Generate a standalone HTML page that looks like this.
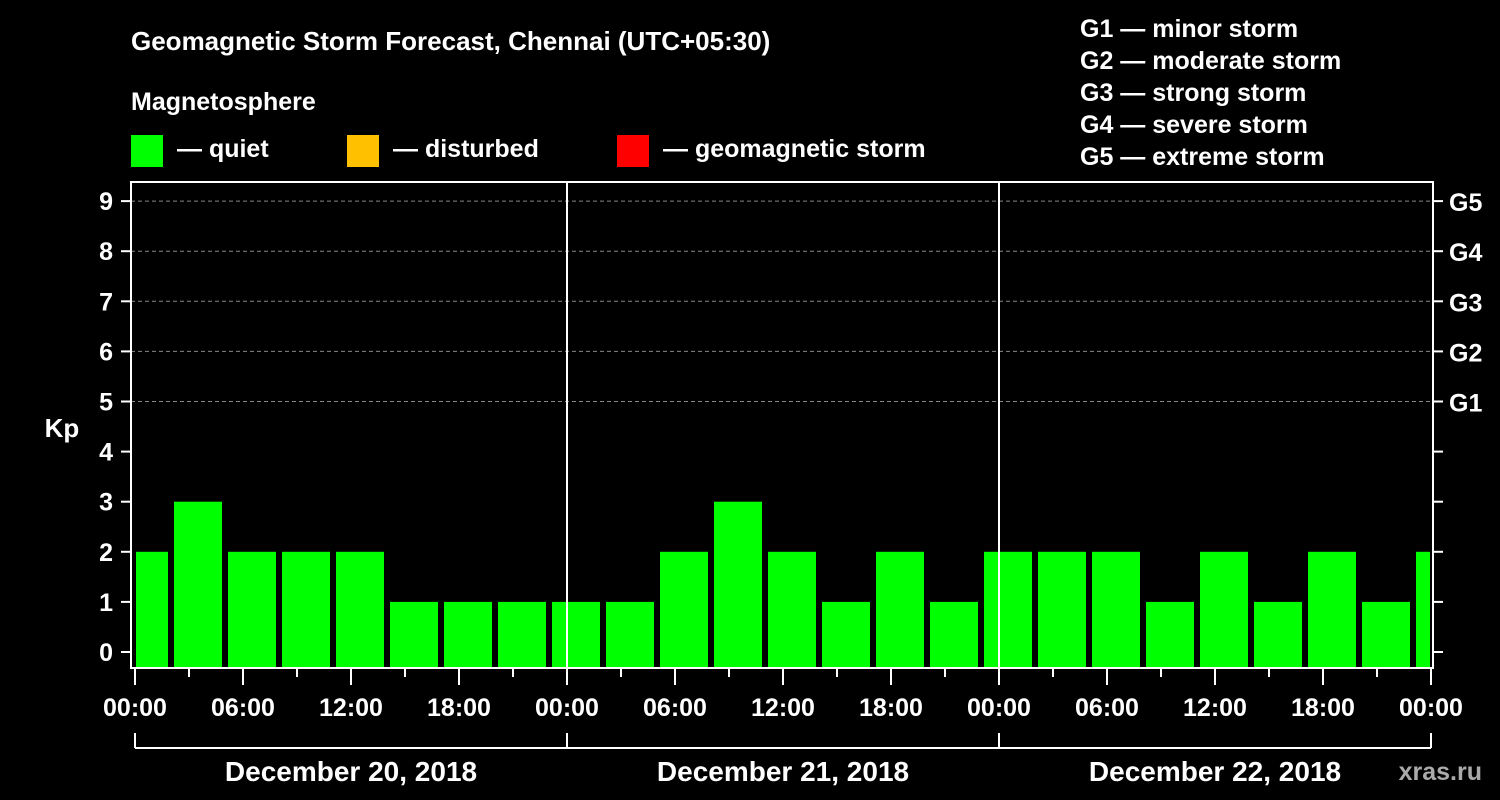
<!DOCTYPE html>
<html><head><meta charset="utf-8"><style>
body{margin:0;background:#000;width:1500px;height:800px;overflow:hidden}
svg{display:block;font-family:"Liberation Sans",sans-serif;font-weight:bold}
</style></head><body>
<svg id="chart" width="1500" height="800" xmlns="http://www.w3.org/2000/svg">
<rect width="1500" height="800" fill="#000"/>
<text x="131" y="50" fill="#fff" font-size="26">Geomagnetic Storm Forecast, Chennai (UTC+05:30)</text>
<text x="131" y="110" fill="#fff" font-size="25">Magnetosphere</text>
<rect x="131" y="135" width="32" height="32" fill="#00ff00"/>
<text x="177" y="157" fill="#fff" font-size="25">— quiet</text>
<rect x="347" y="135" width="32" height="32" fill="#ffc000"/>
<text x="393" y="157" fill="#fff" font-size="25">— disturbed</text>
<rect x="617" y="135" width="32" height="32" fill="#ff0000"/>
<text x="663" y="157" fill="#fff" font-size="25">— geomagnetic storm</text>
<g fill="#fff" font-size="25">
<text x="1080" y="37">G1 — minor storm</text>
<text x="1080" y="69">G2 — moderate storm</text>
<text x="1080" y="101">G3 — strong storm</text>
<text x="1080" y="133">G4 — severe storm</text>
<text x="1080" y="165">G5 — extreme storm</text>
</g>
<text x="62" y="437" fill="#fff" font-size="26" text-anchor="middle">Kp</text>
<text x="1482" y="780" fill="#aaa" font-size="25" text-anchor="end">xras.ru</text>
<g id="plot"></g>
</svg>
<script>
const kpValues=[2,3,2,2,2,1,1,1,1,1,2,3,2,1,2,1,2,2,2,1,2,1,2,1,2];
const kpTicks=[0,1,2,3,4,5,6,7,8,9];
const gLabels=["","","","","","G1","G2","G3","G4","G5"];
const timeLabels=["00:00","06:00","12:00","18:00","00:00","06:00","12:00","18:00","00:00","06:00","12:00","18:00","00:00"];
const dayLabels=["December 20, 2018","December 21, 2018","December 22, 2018"];
const NS="http://www.w3.org/2000/svg";
const x=h=>135+h*18;
const y=v=>652-v*50.1;
const g=document.getElementById('plot');
function mk(tag,attrs){const e=document.createElementNS(NS,tag);for(const k in attrs)e.setAttribute(k,attrs[k]);g.appendChild(e);return e;}
// grid
kpTicks.forEach((v,i)=>{
 if(v>=5){const l=mk('line',{x1:131,x2:1433,y1:y(v),y2:y(v),stroke:'#888','stroke-dasharray':'4,3','stroke-width':1});
 
 }
 const t=mk('line',{x1:121,x2:131,y1:y(v),y2:y(v),stroke:'#fff','stroke-width':2});
 
 
 const t2=mk('line',{x1:1433,x2:1443,y1:y(v),y2:y(v),stroke:'#fff','stroke-width':2});
 
 
 const lb=mk('text',{x:113,y:y(v)+9,fill:'#fff','font-size':25,'text-anchor':'end'});lb.textContent=v;
 
 
 if(gLabels[i]){const gl=mk('text',{x:1449,y:y(v)+10,fill:'#fff','font-size':25});gl.textContent=gLabels[i];
 
 }
});
// bars
kpValues.forEach((v,k)=>{
 let c=0.5+3*k, x0=x(c-4/3), x1=x(c+4/3);
 x0=Math.max(x0,136);x1=Math.min(x1,1430);
 const r=mk('rect',{x:x0,y:y(v),width:x1-x0,height:668-y(v),fill:v>=5?'#ff0000':(v>=4?'#ffc000':'#00ff00')});
 
 
});
// day separators
for(let d=1;d<3;d++){const l=mk('line',{x1:x(24*d),x2:x(24*d),y1:182,y2:668,stroke:'#fff','stroke-width':2});
 
 }
// frame
const f=mk('rect',{x:131,y:182,width:1302,height:486,fill:'none',stroke:'#fff','stroke-width':2});


// x ticks
for(let h=0;h<=72;h+=3){const major=h%6===0;
 const t=mk('line',{x1:x(h),x2:x(h),y1:669,y2:major?685:677,stroke:'#fff','stroke-width':2});
 
 }
timeLabels.forEach((s,i)=>{const t=mk('text',{x:x(i*6),y:716,fill:'#fff','font-size':25,'text-anchor':'middle'});t.textContent=s;
 
 });
// day bracket
const bl=mk('line',{x1:x(0),x2:x(72),y1:748,y2:748,stroke:'#fff','stroke-width':2});


for(let d=0;d<=3;d++){const t=mk('line',{x1:x(24*d),x2:x(24*d),y1:733,y2:748,stroke:'#fff','stroke-width':2});
 
 }
dayLabels.forEach((s,i)=>{const t=mk('text',{x:x(24*i+12),y:781,fill:'#fff','font-size':28,'text-anchor':'middle'});t.textContent=s;
 
 });
</script>
</body></html>
